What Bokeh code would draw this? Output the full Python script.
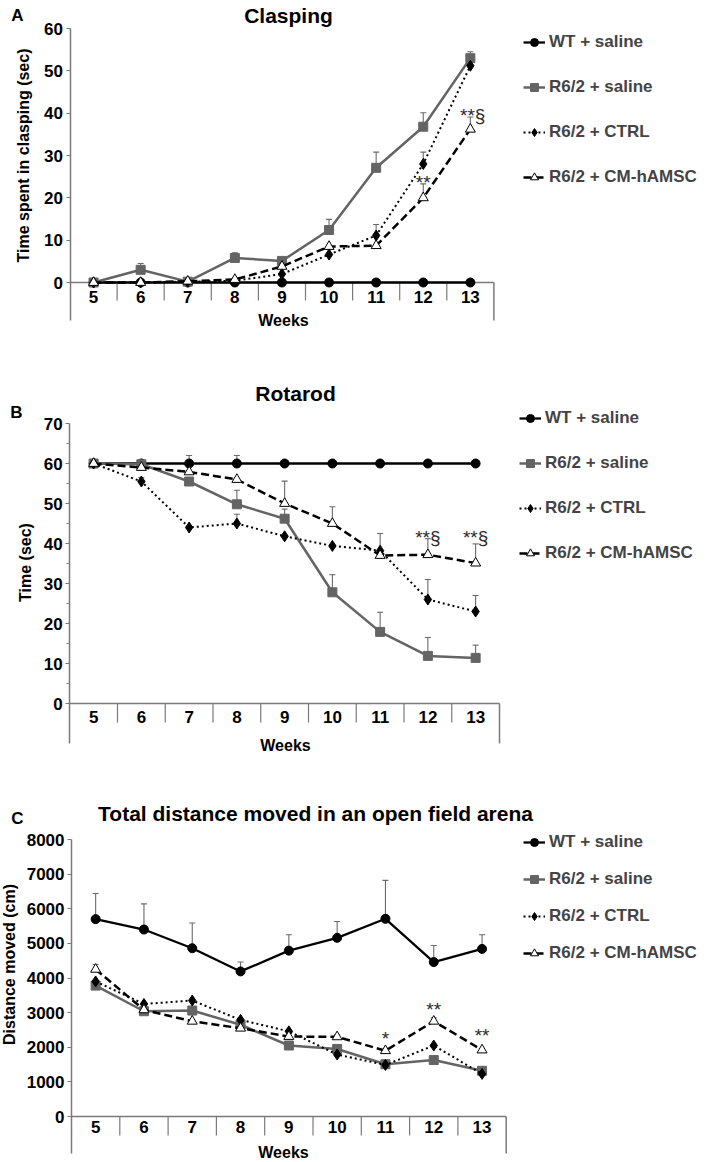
from bokeh.plotting import figure
from bokeh.layouts import column
from bokeh.models import FixedTicker, Label, Legend, LegendItem
from bokeh.core.properties import value
from bokeh.embed import file_html
from bokeh.resources import INLINE
import math

FONT = "Liberation Sans"
AXC = "#7a7a7a"

weeks = [5, 6, 7, 8, 9, 10, 11, 12, 13]
series_names = ["WT + saline", "R6/2 + saline", "R6/2 + CTRL", "R6/2 + CM-hAMSC"]

# Panel A: Clasping (sec)
A_wt = [0, 0, 0, 0, 0, 0, 0, 0, 0]
A_wt_err = [0, 0, 0, 0, 0, 0, 0, 0, 0]
A_sal = [0, 3.0, 0.2, 5.8, 5.1, 12.4, 27.1, 36.8, 53.0]
A_sal_err = [0, 1.5, 0, 1.2, 0, 2.5, 3.7, 3.3, 1.5]
A_ctrl = [0, 0, 0.2, 0.4, 2.0, 6.6, 11.1, 28.0, 51.2]
A_ctrl_err = [0, 0, 0, 0, 0, 0, 2.6, 2.8, 0]
A_cm = [0, 0, 0.3, 0.7, 3.8, 8.5, 8.7, 20.0, 36.2]
A_cm_err = [0, 0, 0, 0, 0, 0, 0, 3.3, 2.9]
A_sig_x = [12, 13.05]
A_sig_y = [24.9, 40.6]
A_sig_text = ["**", "**§"]
A_yticks = [0, 10, 20, 30, 40, 50, 60]

# Panel B: Rotarod (sec)
B_wt = [60, 60, 60, 60, 60, 60, 60, 60, 60]
B_wt_err = [0, 0, 2.0, 2.0, 0, 0, 0, 0, 0]
B_sal = [60, 59.8, 55.5, 49.8, 46.2, 27.8, 17.9, 11.9, 11.4]
B_sal_err = [0, 0, 0, 3.5, 2.4, 4.4, 4.9, 4.6, 3.2]
B_ctrl = [60, 55.5, 44.0, 45.0, 41.8, 39.4, 38.2, 26.0, 23.0]
B_ctrl_err = [0, 1.0, 0, 2.3, 0, 0, 4.3, 5.0, 4.0]
B_cm = [60, 59.0, 57.9, 56.0, 50.0, 45.0, 37.0, 37.2, 35.1]
B_cm_err = [0, 0, 0, 0, 5.6, 4.2, 0, 4.0, 4.8]
B_sig_x = [12, 13]
B_sig_y = [42.8, 42.8]
B_sig_text = ["**§", "**§"]
B_yticks = [0, 10, 20, 30, 40, 50, 60, 70]
B_minor = [5, 15, 25, 35, 45, 55, 65]

# Panel C: Distance moved (cm)
C_wt = [5700, 5400, 4860, 4190, 4790, 5160, 5710, 4460, 4840]
C_wt_err = [740, 740, 730, 270, 460, 470, 1110, 480, 410]
C_sal = [3780, 3040, 3060, 2650, 2050, 1950, 1510, 1630, 1320]
C_sal_err = [0, 0, 0, 0, 0, 0, 0, 0, 0]
C_ctrl = [3900, 3250, 3350, 2790, 2460, 1790, 1490, 2050, 1230]
C_ctrl_err = [0, 0, 0, 0, 0, 0, 0, 0, 0]
C_cm = [4250, 3080, 2750, 2550, 2310, 2300, 1900, 2750, 1920]
C_cm_err = [140, 0, 0, 0, 0, 60, 0, 100, 0]
C_sig_x = [11, 12, 13]
C_sig_y = [2390, 3235, 2480]
C_sig_text = ["*", "**", "**"]
C_yticks = [0, 1000, 2000, 3000, 4000, 5000, 6000, 7000, 8000]

STYLES = [
    dict(color="black", lw=2.3, dash="solid", marker="circle", size=9, fill="black"),
    dict(color="#646464", lw=2.5, dash="solid", marker="square", size=9, fill="#646464"),
    dict(color="black", lw=2.0, dash="2 3", marker="diamond", size=11, fill="black"),
    dict(color="black", lw=2.5, dash="8 4", marker="triangle", size=10, fill="white"),
]

W = 707


def make_panel(cfg):
    H, s, top, axis_px = cfg["H"], cfg["s"], cfg["fig_top"], cfg["axis_px"]
    ymax = cfg["yticks"][-1]
    k = (cfg["zero_px"] - cfg["top_px"]) / ymax
    y_end = ymax + cfg["top_px"] / k
    y_start = -(H - cfg["zero_px"]) / k
    x_axis0 = weeks[0] - 0.5

    def X(px):
        return x_axis0 + (px - axis_px) / s

    def Y(py):
        return y_end - (py - top) / k

    p = figure(width=W, height=H, x_range=(X(0), X(W)), y_range=(y_start, y_end),
               x_axis_type=None, output_backend="svg", toolbar_location=None,
               min_border=0, min_border_left=0, min_border_right=0,
               min_border_top=0, min_border_bottom=0)
    p.outline_line_color = None
    p.grid.visible = False
    p.background_fill_color = "white"
    p.border_fill_color = "white"

    ax = p.yaxis[0]
    ax.fixed_location = x_axis0
    ax.ticker = FixedTicker(ticks=cfg["yticks"], minor_ticks=cfg["minor"])
    ax.bounds = (Y(cfg["axis_bottom"]), ymax)
    ax.axis_line_color = AXC
    ax.axis_line_width = 1.5
    ax.major_tick_line_color = AXC
    ax.major_tick_line_width = 1.2
    ax.major_tick_out = 4
    ax.major_tick_in = 0
    ax.minor_tick_line_color = AXC
    ax.minor_tick_out = 3
    ax.minor_tick_in = 0
    ax.major_label_text_font = FONT
    ax.major_label_text_font_size = "17px"
    ax.major_label_text_font_style = "bold"
    ax.major_label_text_color = "black"
    ax.major_label_standoff = 3

    # category x axis drawn through the data scale
    xl, xr = weeks[0] - 0.5, weeks[-1] + 0.5
    p.segment(x0=[xl], y0=[0], x1=[xr], y1=[0], line_color=AXC, line_width=1.5)
    bnd = [w + 0.5 for w in weeks[:-1]]
    p.segment(x0=bnd, y0=[0] * len(bnd), x1=bnd, y1=[-cfg["tick_len"] / k] * len(bnd),
              line_color=AXC, line_width=1.2)
    p.segment(x0=[xr], y0=[0], x1=[xr], y1=[Y(cfg["axis_bottom"])], line_color=AXC, line_width=1.5)
    p.text(x=weeks, y=[-cfg["lab_off"] / k] * len(weeks), text=[str(w) for w in weeks],
           text_align="center", text_baseline="middle", text_font=value(FONT),
           text_font_size="17px", text_font_style="bold", text_color="black")

    items = []
    cap = 3.0 / s
    for name, ys, es, st in zip(series_names, cfg["vals"], cfg["errs"], STYLES):
        ex = [w for w, e in zip(weeks, es) if e > 0]
        ey = [y for y, e in zip(ys, es) if e > 0]
        et = [y + e for y, e in zip(ys, es) if e > 0]
        if ex:
            p.segment(x0=ex, y0=ey, x1=ex, y1=et, line_color="#6a6a6a", line_width=1.1)
            p.segment(x0=[x - cap for x in ex], y0=et, x1=[x + cap for x in ex], y1=et,
                      line_color="#6a6a6a", line_width=1.1)
        ln = p.line(weeks, ys, line_color=st["color"], line_width=st["lw"], line_dash=st["dash"])
        mk = p.scatter(weeks, ys, marker=st["marker"], size=st["size"],
                       fill_color=st["fill"], line_color=st["color"], line_width=1)
        items.append(LegendItem(label=name, renderers=[ln, mk]))

    p.text(x=cfg["sig_x"], y=cfg["sig_y"], text=cfg["sig_text"], text_align="center",
           text_baseline="middle", y_offset=5, text_font=value(FONT), text_font_size="19px",
           text_color="#2a2a2a")

    leg = Legend(items=items, location=cfg["legend_loc"], orientation="vertical",
                 glyph_width=22, glyph_height=20, label_height=20, label_standoff=4,
                 spacing=cfg["legend_spacing"], padding=0, margin=0,
                 border_line_alpha=0, background_fill_alpha=0,
                 label_text_font=FONT, label_text_font_size="17px",
                 label_text_font_style="bold")
    p.add_layout(leg)

    def lab(txt, px, py, size, bold=True, angle=0.0):
        p.add_layout(Label(x=X(px), y=Y(py), text=txt, text_align="center",
                           text_baseline="middle", angle=angle, text_font=FONT,
                           text_font_size=size, text_font_style="bold" if bold else "normal",
                           text_color="black"))

    lab(cfg["title"], cfg["title_xy"][0], cfg["title_xy"][1], "21px")
    lab(cfg["letter"], cfg["letter_xy"][0], cfg["letter_xy"][1], "17px")
    lab(cfg["ylabel"], cfg["ylabel_xy"][0], cfg["ylabel_xy"][1], "16px", angle=math.pi / 2)
    lab("Weeks", cfg["weeks_xy"][0], cfg["weeks_xy"][1], "16px")
    return p


pA = make_panel(dict(H=345, s=47.1, axis_px=69.5, fig_top=0, top_px=28, zero_px=282,
                     yticks=A_yticks, minor=[], axis_bottom=320, tick_len=18, lab_off=14.5,
                     vals=[A_wt, A_sal, A_ctrl, A_cm], errs=[A_wt_err, A_sal_err, A_ctrl_err, A_cm_err],
                     sig_x=A_sig_x, sig_y=A_sig_y, sig_text=A_sig_text,
                     legend_loc=(523, 158), legend_spacing=25,
                     title="Clasping", title_xy=(288, 15), letter="A", letter_xy=(17, 15),
                     ylabel="Time spent in clasping (sec)", ylabel_xy=(23, 155),
                     weeks_xy=(283, 320)))

pB = make_panel(dict(H=427, s=47.75, axis_px=69.25, fig_top=345, top_px=78, zero_px=358,
                     yticks=B_yticks, minor=B_minor, axis_bottom=743, tick_len=19, lab_off=13.7,
                     vals=[B_wt, B_sal, B_ctrl, B_cm], errs=[B_wt_err, B_sal_err, B_ctrl_err, B_cm_err],
                     sig_x=B_sig_x, sig_y=B_sig_y, sig_text=B_sig_text,
                     legend_loc=(519, 209), legend_spacing=25,
                     title="Rotarod", title_xy=(295, 393), letter="B", letter_xy=(16, 412),
                     ylabel="Time (sec)", ylabel_xy=(25, 562),
                     weeks_xy=(285, 745)))

pC = make_panel(dict(H=388, s=48.3, axis_px=71, fig_top=772, top_px=67, zero_px=344,
                     yticks=C_yticks, minor=[], axis_bottom=1153, tick_len=19, lab_off=10,
                     vals=[C_wt, C_sal, C_ctrl, C_cm], errs=[C_wt_err, C_sal_err, C_ctrl_err, C_cm_err],
                     sig_x=C_sig_x, sig_y=C_sig_y, sig_text=C_sig_text,
                     legend_loc=(523, 197), legend_spacing=17,
                     title="Total distance moved in an open field arena", title_xy=(315, 813),
                     letter="C", letter_xy=(17, 818),
                     ylabel="Distance moved (cm)", ylabel_xy=(9, 964),
                     weeks_xy=(283, 1152)))

layout = column(pA, pB, pC, spacing=0)
open("out.html", "w").write(file_html(layout, INLINE))
